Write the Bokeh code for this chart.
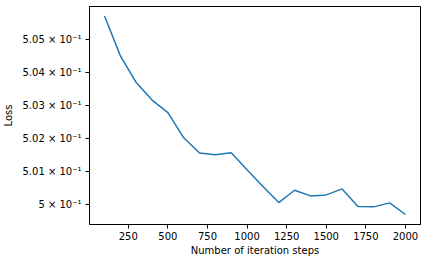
from bokeh.plotting import figure
from bokeh.models import FixedTicker, Range1d
from bokeh.embed import file_html
from bokeh.resources import INLINE

steps = [100, 200, 300, 400, 500, 600, 700, 800, 900, 1000,
         1100, 1200, 1300, 1400, 1500, 1600, 1700, 1800, 1900, 2000]
loss = [0.50570, 0.50449, 0.50368, 0.50315, 0.50277, 0.50201, 0.50155, 0.50150, 0.50156, 0.50105,
        0.50054, 0.50006, 0.50043, 0.50026, 0.50029, 0.50047, 0.49994, 0.49993, 0.50005, 0.49970]
y_ticks = [0.500, 0.501, 0.502, 0.503, 0.504, 0.505]
y_tick_labels = ["5 × 10⁻¹", "5.01 × 10⁻¹", "5.02 × 10⁻¹", "5.03 × 10⁻¹", "5.04 × 10⁻¹", "5.05 × 10⁻¹"]
x_ticks = [250, 500, 750, 1000, 1250, 1500, 1750, 2000]

p = figure(width=427, height=262, output_backend="svg", toolbar_location=None,
           y_axis_type="log",
           x_range=Range1d(5, 2095), y_range=Range1d(0.49940, 0.50599),
           min_border_left=86, min_border_right=7, min_border_top=6, min_border_bottom=38)

p.line(steps, loss, line_color="#1f77b4", line_width=1.5)

p.xgrid.visible = False
p.ygrid.visible = False
p.outline_line_color = "black"
p.outline_line_width = 1
p.outline_line_alpha = 1

p.xaxis.ticker = FixedTicker(ticks=x_ticks)
p.yaxis.ticker = FixedTicker(ticks=y_ticks)
p.yaxis.major_label_overrides = {t: l for t, l in zip(y_ticks, y_tick_labels)}

for ax in (p.xaxis[0], p.yaxis[0]):
    ax.axis_line_color = "black"
    ax.major_tick_line_color = "black"
    ax.major_tick_out = 4
    ax.major_tick_in = 0
    ax.minor_tick_line_color = None
    ax.major_label_text_font = "DejaVu Sans"
    ax.major_label_text_font_size = "10px"
    ax.major_label_text_color = "black"
    ax.axis_label_text_font = "DejaVu Sans"
    ax.axis_label_text_font_size = "10px"
    ax.axis_label_text_font_style = "normal"
    ax.axis_label_text_color = "black"

p.xaxis.axis_label = "Number of iteration steps"
p.yaxis.axis_label = "Loss"
p.xaxis.axis_label_standoff = 2
p.yaxis.axis_label_standoff = 5
p.xaxis.major_label_standoff = 3
p.yaxis.major_label_standoff = 4

open("out.html", "w").write(file_html(p, INLINE))
